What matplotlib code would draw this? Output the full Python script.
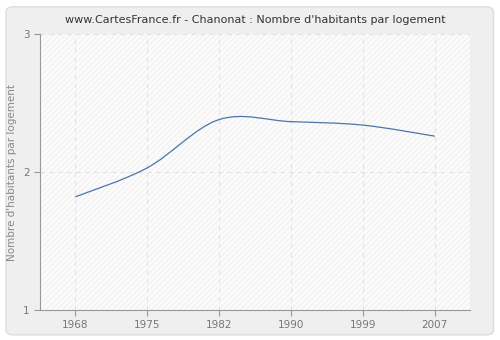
import numpy as np
import matplotlib
matplotlib.use('Agg')
import matplotlib.pyplot as plt
from matplotlib.path import Path
from matplotlib.patches import PathPatch, FancyBboxPatch, Rectangle

years = ['1968', '1975', '1982', '1990', '1999', '2007']
values = [1.82, 2.03, 2.38, 2.365, 2.34, 2.26]

plt.rcParams['hatch.linewidth'] = 0.5

fig = plt.figure(figsize=(5, 3.4), dpi=100)
fig.patch.set_facecolor('white')
# panel de fond arrondi
panel = FancyBboxPatch((0.012, 0.015), 0.975, 0.965, boxstyle='round,pad=0,rounding_size=0.015',
                       transform=fig.transFigure, facecolor='#efefef', edgecolor='#dddddd', lw=1,
                       zorder=-10)
fig.patches.append(panel)

ax = fig.add_axes([0.08, 0.088, 0.86, 0.812])
ax.set_facecolor('#fbfbfb')
ax.add_patch(Rectangle((0, 0), 1, 1, transform=ax.transAxes, facecolor='none',
                       edgecolor='#ececec', hatch='//////', lw=0, zorder=0))

x = np.arange(len(years))
pts = np.column_stack([x, values])
# courbe lissee (bezier catmull-rom)
verts = [tuple(pts[0])]
codes = [Path.MOVETO]
n = len(pts)
for i in range(n - 1):
    p0 = pts[i - 1] if i > 0 else pts[i]
    p1 = pts[i]
    p2 = pts[i + 1]
    p3 = pts[i + 2] if i + 2 < n else pts[i + 1]
    c1 = p1 + (p2 - p0) / 6
    c2 = p2 - (p3 - p1) / 6
    verts += [tuple(c1), tuple(c2), tuple(p2)]
    codes += [Path.CURVE4] * 3
ax.add_patch(PathPatch(Path(verts, codes), facecolor='none', edgecolor='#4a76a8', lw=0.9, zorder=3))

ax.set_xlim(-0.49, 5.49)
ax.set_ylim(1, 3)
ax.set_xticks(x)
ax.set_xticklabels(years)
ax.set_yticks([1, 2, 3])
ax.grid(True, color='#e2e2e2', linestyle=(0, (4, 4)), lw=0.8)
ax.set_axisbelow(True)
for s in ['top', 'right']:
    ax.spines[s].set_visible(False)
for s in ['left', 'bottom']:
    ax.spines[s].set_color('#999999')
ax.tick_params(colors='#999999', labelcolor='#777777', labelsize=7.5, length=4)
ax.set_ylabel("Nombre d'habitants par logement", color='#888888', fontsize=7.5)
ax.set_title("www.CartesFrance.fr - Chanonat : Nombre d'habitants par logement",
             fontsize=8, color='#333333', pad=8)

plt.savefig('out.png', dpi=100, facecolor=fig.get_facecolor())
